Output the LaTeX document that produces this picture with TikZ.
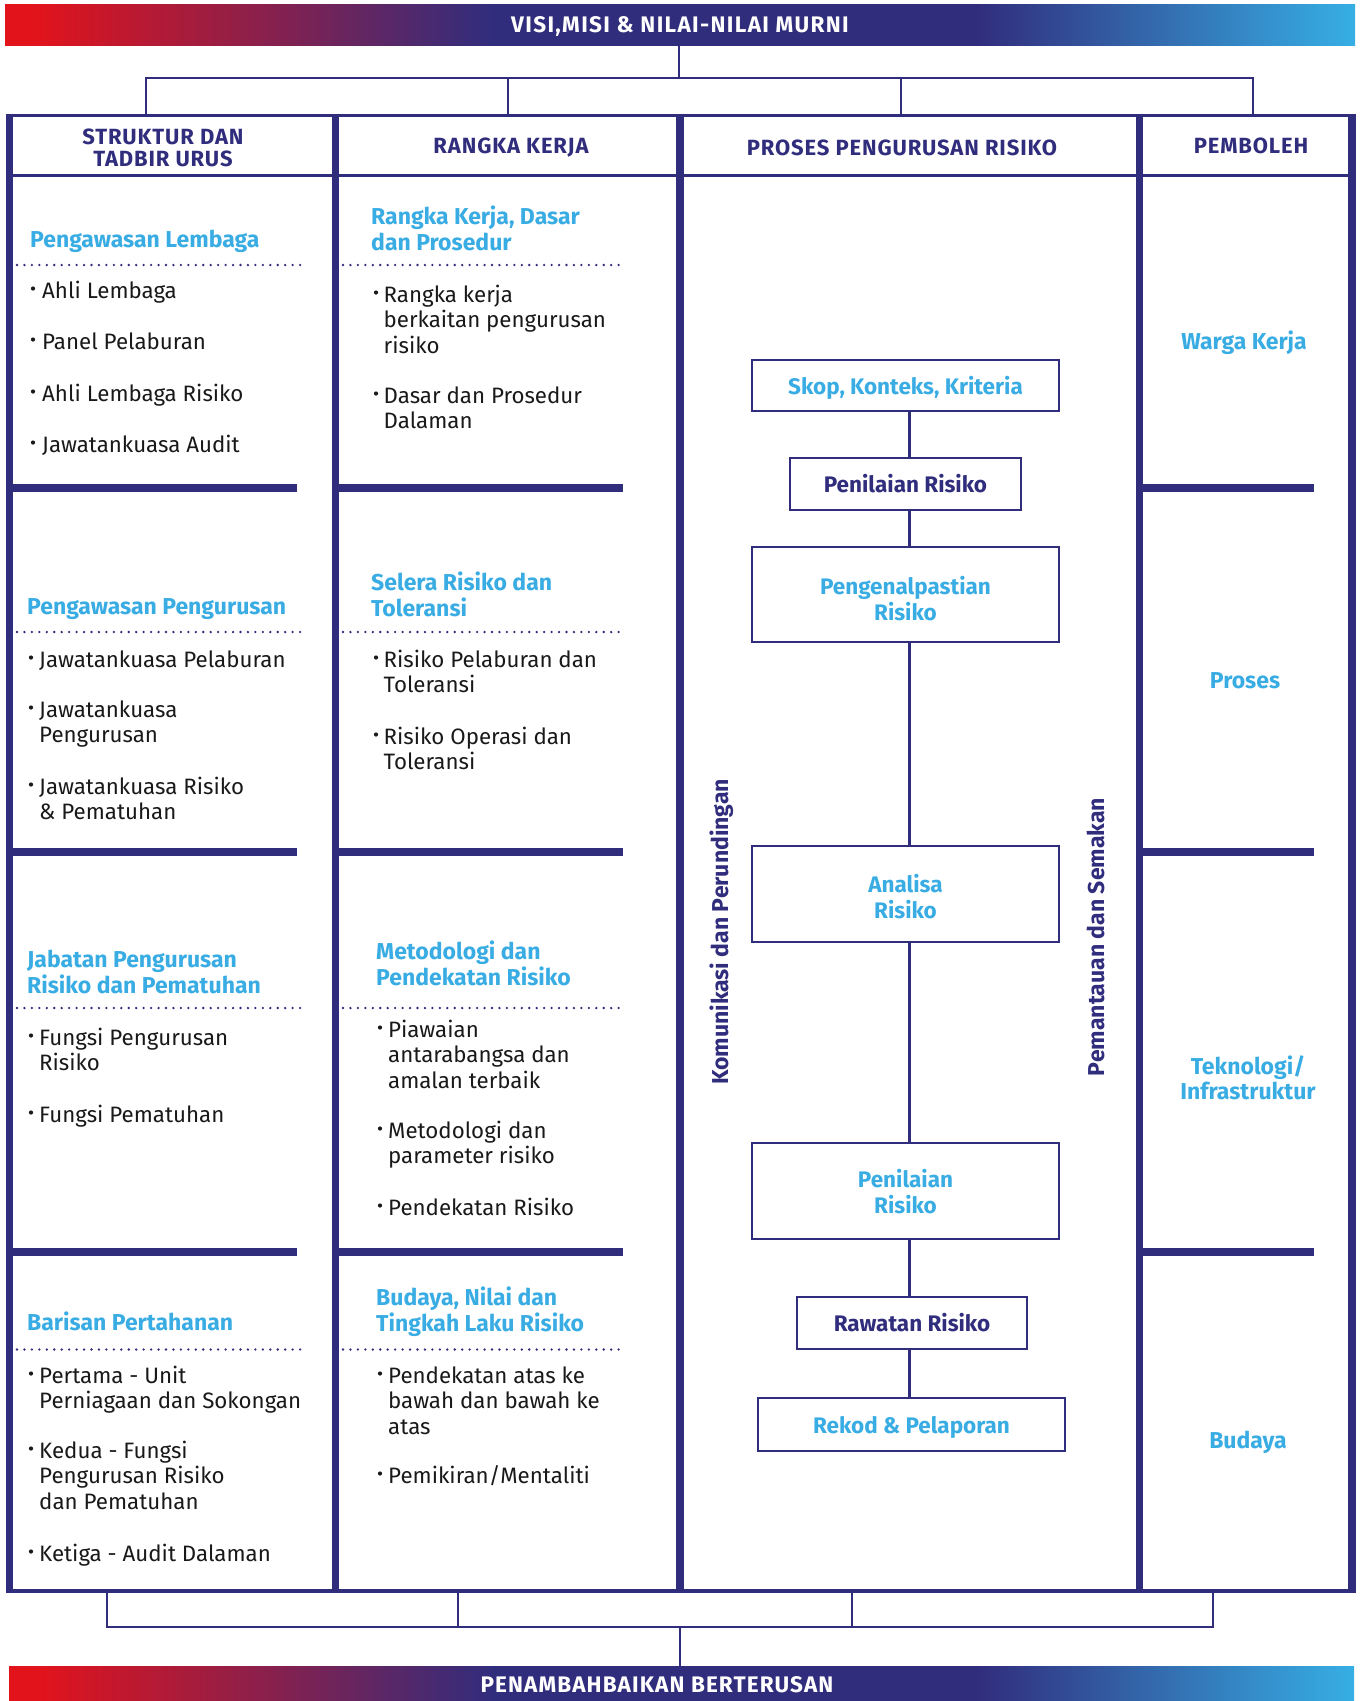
\documentclass[tikz,border=0pt]{standalone}
\usepackage{fontspec}
\setmainfont{Fira Sans}
\definecolor{cnavy}{RGB}{49,45,125}
\definecolor{cblue}{RGB}{56,172,227}
\definecolor{cred}{RGB}{227,19,27}
\definecolor{ccyan}{RGB}{54,175,228}
\definecolor{ctext}{RGB}{25,25,25}
\pgfdeclarehorizontalshading{barshade}{100bp}{color(0bp)=(cred); color(26bp)=(cred); color(43bp)=(cnavy); color(61bp)=(cnavy); color(75bp)=(ccyan); color(100bp)=(ccyan)}
\newcommand\bitm[5]{\fill[ctext] (#2,#4-9.5) circle (2.1pt); \node[body] (#1) at (#3,#4-18) {\rule{0pt}{18pt}#5};}
\newcommand\stit[4]{\node[stitle] (#1) at (#2,#3-18) {\rule{0pt}{18pt}#4};}
\begin{document}
\begin{tikzpicture}[x=1pt,y=-1pt,
  vline/.style={draw=cnavy, line width=7.5pt},
  hline/.style={draw=cnavy, line width=3pt},
  secline/.style={draw=cnavy, line width=8pt},
  dotline/.style={draw=cnavy, line width=2.6pt, line cap=round, dash pattern=on 0pt off 7.45pt},
  tree/.style={draw=cnavy, line width=2.7pt},
  conn/.style={draw=cnavy, line width=2.4pt},
  pbox/.style={draw=cnavy, line width=2.4pt, align=center, inner sep=0pt, font=\bfseries\fontsize{22.5}{25.8}\selectfont},
  bar/.style={shade, shading=barshade, inner sep=0pt, draw=none},
  bartext/.style={text=white, font=\bfseries\fontsize{22.5}{26}\selectfont\addfontfeatures{LetterSpace=#1}, inner sep=0pt, anchor=base},
  head/.style={text=cnavy, font=\bfseries\fontsize{22}{22}\selectfont\addfontfeatures{LetterSpace=4}, inner sep=0pt, align=center},
  body/.style={anchor=north west, inner sep=0pt, align=left, text=ctext, font=\fontsize{22.3}{25.7}\selectfont},
  stitle/.style={anchor=north west, inner sep=0pt, align=left, text=cblue, font=\bfseries\fontsize{23}{25.8}\selectfont},
  vlabel/.style={text=cnavy, font=\bfseries\fontsize{23}{26}\selectfont, inner sep=0pt, rotate=90, anchor=base},
  plabel/.style={text=cblue, font=\bfseries\fontsize{23}{25}\selectfont, inner sep=0pt, align=center}]
\useasboundingbox (0,0) rectangle (1361,1701);
% ---- gradient bars
\node[bar, minimum width=1350pt, minimum height=41pt] (vmvbar) at (680,24.5) {};
\node[bartext=6] (vmv) at (680,32) {VISI,MISI \& NILAI-NILAI MURNI};
\node[bar, minimum width=1345pt, minimum height=35pt] (penbar) at (681.5,1683.5) {};
\node[bartext=5] (pen) at (657,1692) {PENAMBAHBAIKAN BERTERUSAN};
% ---- frame
\foreach \x in {9.5,335.5,680,1139.5,1352} \draw[vline] (\x,113.5) -- (\x,1593);
\draw[hline] (5.75,115) -- (1355.75,115);
\draw[draw=cnavy,line width=2.5pt] (9.5,175.5) -- (1352,175.5);
\draw[draw=cnavy,line width=4pt] (5.75,1591) -- (1355.75,1591);
\foreach \y in {488,852,1252} {
  \draw[secline] (9.5,\y) -- (297,\y);
  \draw[secline] (335.5,\y) -- (623,\y);
  \draw[secline] (1139.5,\y) -- (1314,\y);}
\foreach \y in {265,632,1008,1349.5} {
  \draw[dotline] (17,\y) -- (301,\y);
  \draw[dotline] (343,\y) -- (626,\y);}
% ---- top tree
\coordinate (tj) at (679,78);
\coordinate (t1) at (146,115);
\coordinate (t2) at (508,115);
\coordinate (t3) at (901,115);
\coordinate (t4) at (1253,115);
\draw[tree] (vmvbar.south -| tj) -- (tj);
\draw[tree] (t1) -- (t1 |- tj) -- (t4 |- tj) -- (t4);
\draw[tree] (t2) -- (t2 |- tj);
\draw[tree] (t3) -- (t3 |- tj);
% ---- bottom tree
\coordinate (bj) at (680,1627);
\coordinate (b1) at (107,1591);
\coordinate (b2) at (458,1591);
\coordinate (b3) at (852,1591);
\coordinate (b4) at (1213,1591);
\draw[tree] (b1) -- (b1 |- bj) -- (b4 |- bj) -- (b4);
\draw[tree] (b2) -- (b2 |- bj);
\draw[tree] (b3) -- (b3 |- bj);
\draw[tree] (bj) -- (penbar.north -| bj);
% ---- headers
\node[head, anchor=north] (h1) at (163,126) {\rule{0pt}{18pt}STRUKTUR DAN\\TADBIR URUS};
\node[head, anchor=base] (h2) at (511,153) {RANGKA KERJA};
\node[head, anchor=base] (h3) at (902,155) {PROSES PENGURUSAN RISIKO};
\node[head, anchor=base] (h4) at (1251,153) {PEMBOLEH};
% ---- column 1
\stit{t1a}{30}{247}{Pengawasan Lembaga}
\bitm{c1a}{33}{42}{298}{Ahli Lembaga}
\bitm{c1b}{33}{42}{349}{Panel Pelaburan}
\bitm{c1c}{33}{42}{401}{Ahli Lembaga Risiko}
\bitm{c1d}{33}{42}{452}{Jawatankuasa Audit}
\stit{t1b}{27}{614}{Pengawasan Pengurusan}
\bitm{c1e}{31}{39}{667}{Jawatankuasa Pelaburan}
\bitm{c1f}{31}{39}{717}{Jawatankuasa\\Pengurusan}
\bitm{c1g}{31}{39}{794}{Jawatankuasa Risiko\\\& Pematuhan}
\stit{t1c}{27}{967}{Jabatan Pengurusan\\Risiko dan Pematuhan}
\bitm{c1h}{31}{39}{1045}{Fungsi Pengurusan\\Risiko}
\bitm{c1i}{31}{39}{1122}{Fungsi Pematuhan}
\stit{t1d}{27}{1330}{Barisan Pertahanan}
\bitm{c1j}{31}{39}{1383}{Pertama - Unit\\Perniagaan dan Sokongan}
\bitm{c1k}{31}{39}{1458}{Kedua - Fungsi\\Pengurusan Risiko\\dan Pematuhan}
\bitm{c1l}{31}{39}{1561}{Ketiga - Audit Dalaman}
% ---- column 2
\stit{t2a}{371}{224}{Rangka Kerja, Dasar\\dan Prosedur}
\bitm{c2a}{376}{383.5}{302}{Rangka kerja\\berkaitan pengurusan\\risiko}
\bitm{c2b}{376}{383.5}{403}{Dasar dan Prosedur\\Dalaman}
\stit{t2b}{371}{590}{Selera Risiko dan\\Toleransi}
\bitm{c2c}{376}{383.5}{667}{Risiko Pelaburan dan\\Toleransi}
\bitm{c2d}{376}{383.5}{744}{Risiko Operasi dan\\Toleransi}
\stit{t2c}{376}{959}{Metodologi dan\\Pendekatan Risiko}
\bitm{c2e}{380}{388}{1037}{Piawaian\\antarabangsa dan\\amalan terbaik}
\bitm{c2f}{380}{388}{1138}{Metodologi dan\\parameter risiko}
\bitm{c2g}{380}{388}{1215}{Pendekatan Risiko}
\stit{t2d}{376}{1305}{Budaya, Nilai dan\\Tingkah Laku Risiko}
\bitm{c2h}{380}{388}{1383}{Pendekatan atas ke\\bawah dan bawah ke\\atas}
\bitm{c2i}{380}{388}{1483}{Pemikiran/Mentaliti}
% ---- column 3: process
\node[pbox, text=cblue, text depth=0pt, minimum width=307pt, minimum height=51pt] (skop) at (905.5,385.5) {Skop, Konteks, Kriteria};
\node[pbox, text=cnavy, minimum width=231pt, minimum height=52pt] (pen1) at (905.5,484) {Penilaian Risiko};
\node[pbox, text=cblue, minimum width=307pt, minimum height=95pt] (peng) at (905.5,594.5) {\rule{0pt}{26pt}Pengenalpastian\\Risiko};
\node[pbox, text=cblue, minimum width=307pt, minimum height=96pt] (anal) at (905.5,894) {\rule{0pt}{23.5pt}Analisa\\Risiko};
\node[pbox, text=cblue, minimum width=307pt, minimum height=96pt] (pen2) at (905.5,1191) {\rule{0pt}{19.5pt}Penilaian\\Risiko};
\node[pbox, text=cnavy, minimum width=230pt, minimum height=52pt] (raw) at (912,1323) {Rawatan Risiko};
\node[pbox, text=cblue, text depth=0pt, minimum width=307pt, minimum height=53pt] (rek) at (911.5,1424.5) {Rekod \& Pelaporan};
\coordinate (cx) at (909.5,0);
\draw[conn] (skop.south -| cx) -- (pen1.north -| cx);
\draw[conn] (pen1.south -| cx) -- (peng.north -| cx);
\draw[conn] (peng.south -| cx) -- (anal.north -| cx);
\draw[conn] (anal.south -| cx) -- (pen2.north -| cx);
\draw[conn] (pen2.south -| cx) -- (raw.north -| cx);
\draw[conn] (raw.south -| cx) -- (rek.north -| cx);
\node[vlabel] (kom) at (728,932) {Komunikasi dan Perundingan};
\node[vlabel] (pmt) at (1104,937) {Pemantauan dan Semakan};
% ---- column 4
\node[plabel, anchor=base] (wk) at (1244,349) {Warga Kerja};
\node[plabel, anchor=base] (prs) at (1245,688) {Proses};
\node[plabel, anchor=north] (tek) at (1248,1056) {\rule{0pt}{18pt}Teknologi/\\Infrastruktur};
\node[plabel, anchor=base] (bud) at (1248,1448) {Budaya};
\end{tikzpicture}
\end{document}
